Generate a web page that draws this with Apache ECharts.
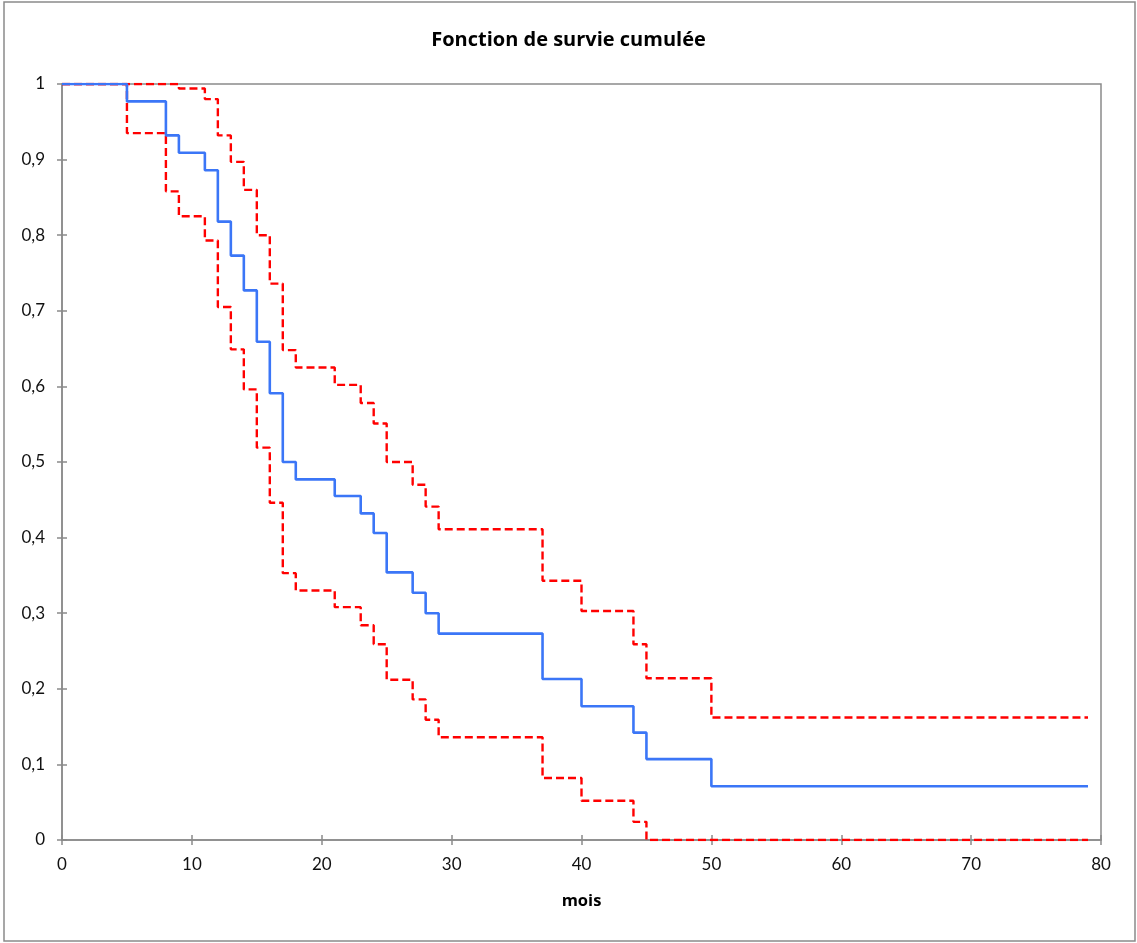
<!DOCTYPE html>
<html>
<head>
<meta charset="utf-8">
<title>Fonction de survie cumulée</title>
<script src="https://cdn.jsdelivr.net/npm/echarts@6/dist/echarts.min.js"></script>
<style>
  html, body { margin: 0; padding: 0; background: #ffffff; }
  #chart { width: 1137px; height: 943px; }
</style>
</head>
<body>
<div id="chart"></div>
<script>
// Kaplan–Meier estimate with its confidence band (months)
const times = [0, 5, 8, 9, 11, 12, 13, 14, 15, 16, 17, 18, 21, 23, 24, 25, 27, 28, 29, 37, 40, 44, 45, 50, 79];
const survival = [1, 0.977, 0.932, 0.909, 0.886, 0.818, 0.773, 0.727, 0.659, 0.591, 0.500, 0.477, 0.455, 0.432, 0.406, 0.354, 0.327, 0.300, 0.273, 0.213, 0.177, 0.142, 0.107, 0.071, 0.071];
const upperBound = [1, 1, 1, 0.994, 0.980, 0.932, 0.897, 0.860, 0.800, 0.736, 0.648, 0.625, 0.602, 0.578, 0.551, 0.500, 0.470, 0.441, 0.411, 0.343, 0.303, 0.259, 0.214, 0.162, 0.162];
const lowerBound = [1, 0.935, 0.858, 0.825, 0.793, 0.705, 0.649, 0.596, 0.519, 0.446, 0.353, 0.330, 0.308, 0.284, 0.259, 0.212, 0.186, 0.159, 0.136, 0.082, 0.052, 0.024, 0, 0, 0];

const xTicks = { min: 0, max: 80, interval: 10 };
const yTicks = { min: 0, max: 1, interval: 0.1 };

const titleText = 'Fonction de survie cumulée';
const xAxisTitle = 'mois';

const FONT = 'Lato, "Open Sans", "Liberation Sans", sans-serif';
const TITLE_FONT = '"Open Sans", Lato, "Liberation Sans", sans-serif';
const AXIS_GREY = '#8a8a8a';

const pairs = ys => times.map((t, i) => [t, ys[i]]);

const chart = echarts.init(document.getElementById('chart'), null, { renderer: 'canvas' });

const baseX = {
  type: 'value', min: xTicks.min, max: xTicks.max, interval: xTicks.interval,
  splitLine: { show: false }
};
const baseY = {
  type: 'value', min: yTicks.min, max: yTicks.max, interval: yTicks.interval,
  splitLine: { show: false }
};

chart.setOption({
  backgroundColor: '#ffffff',
  animation: false,
  textStyle: { fontFamily: FONT },
  title: {
    text: titleText,
    left: 'center',
    top: 25,
    textStyle: { fontFamily: TITLE_FONT, fontSize: 20, fontWeight: 'bold', color: '#000' }
  },
  graphic: [{
    type: 'rect',
    shape: { x: 4, y: 2, width: 1131, height: 939 },
    style: { fill: 'none', stroke: AXIS_GREY, lineWidth: 1.5 },
    silent: true, z: -1
  }],
  grid: {
    left: 62, right: 36, top: 84, bottom: 103,
    show: true, borderColor: AXIS_GREY, borderWidth: 1.5, backgroundColor: 'transparent'
  },
  xAxis: [
    Object.assign({}, baseX, {
      name: xAxisTitle,
      nameLocation: 'middle',
      nameGap: 53,
      nameTextStyle: { fontFamily: TITLE_FONT, fontSize: 16.5, fontWeight: 'bold', color: '#000' },
      axisLine: { show: true, onZero: false, lineStyle: { color: AXIS_GREY, width: 1.5 } },
      axisTick: { show: true, length: 5, lineStyle: { color: AXIS_GREY, width: 1.5 } },
      axisLabel: { margin: 16, fontFamily: FONT, fontSize: 17, color: '#111' }
    }),
    // inward half of the crossing tick marks
    Object.assign({}, baseX, {
      position: 'bottom',
      axisLine: { show: false },
      axisTick: { show: true, inside: true, length: 5, lineStyle: { color: AXIS_GREY, width: 1.5 } },
      axisLabel: { show: false }
    })
  ],
  yAxis: [
    Object.assign({}, baseY, {
      axisLine: { show: true, onZero: false, lineStyle: { color: AXIS_GREY, width: 1.5 } },
      axisTick: { show: true, length: 5, lineStyle: { color: AXIS_GREY, width: 1.5 } },
      axisLabel: {
        margin: 17, fontFamily: FONT, fontSize: 17, color: '#111',
        formatter: v => String(Math.round(v * 10) / 10).replace('.', ',')
      }
    }),
    Object.assign({}, baseY, {
      position: 'left',
      axisLine: { show: false },
      axisTick: { show: true, inside: true, length: 5, lineStyle: { color: AXIS_GREY, width: 1.5 } },
      axisLabel: { show: false }
    })
  ],
  series: [
    {
      name: 'Borne supérieure',
      type: 'line', step: 'end', showSymbol: false,
      data: pairs(upperBound),
      lineStyle: { color: '#ff0000', width: 2.4, type: [8, 4] },
      z: 3
    },
    {
      name: 'Borne inférieure',
      type: 'line', step: 'end', showSymbol: false,
      data: pairs(lowerBound),
      lineStyle: { color: '#ff0000', width: 2.4, type: [8, 4] },
      z: 3
    },
    {
      name: 'Survie',
      type: 'line', step: 'end', showSymbol: false,
      data: pairs(survival),
      lineStyle: { color: '#3b76f7', width: 2.6 },
      z: 4
    }
  ]
});
</script>
</body>
</html>
